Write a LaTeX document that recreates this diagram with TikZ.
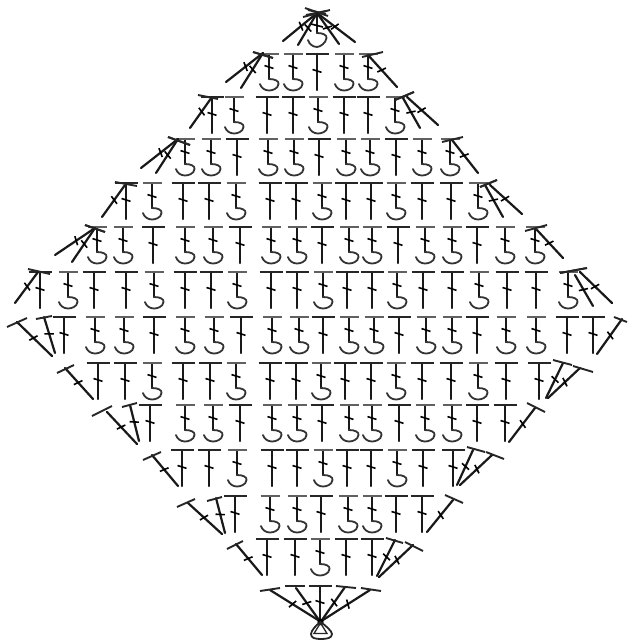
\documentclass[tikz,border=0pt]{standalone}
\tikzset{
  stem/.style={line width=2.4pt,black!90,line cap=round},
  topbar/.style={line width=1.9pt,black!85},
  hookbar/.style={line width=1.7pt,black!62},
  tickline/.style={line width=1.6pt,black},
  hookline/.style={line width=1.8pt,black!80,line cap=round},
}
% plain stitch: x, top y, height
\newcommand\tst[3]{%
  \draw[stem] (#1,#2) -- (#1,#2+#3);
  \draw[topbar] (#1-11.5,#2) -- (#1+11.5,#2);
  \draw[tickline] (#1-4.5,#2+0.47*#3-1.4) -- (#1+4.5,#2+0.47*#3+1.4);
}
% hooked stitch: x, top y
\newcommand\hst[2]{%
  \draw[stem,line width=2.1pt] (#1,#2) -- (#1,#2+25);
  \draw[hookbar] (#1-9.5,#2) -- (#1+9.5,#2);
  \draw[tickline] (#1-4.5,#2+13-1.4) -- (#1+4.5,#2+13+1.4);
  \draw[hookline] (#1,#2+25) .. controls (#1+6,#2+25) and (#1+10,#2+27) .. (#1+9.5,#2+30)
     .. controls (#1+9,#2+35) and (#1+3,#2+36.5) .. (#1,#2+36.5)
     .. controls (#1-4,#2+36.5) and (#1-8,#2+34) .. (#1-9,#2+30);
}
% slanted stitch: top x,y; bottom x,y; bar ends x1,y1,x2,y2
\newcommand\sst[8]{%
  \pgfmathsetmacro\len{veclen(#3-#1,#4-#2)}%
  \pgfmathsetmacro\ux{(#3-#1)/\len}%
  \pgfmathsetmacro\uy{(#4-#2)/\len}%
  \pgfmathsetmacro\mx{#1+0.47*(#3-#1)}%
  \pgfmathsetmacro\my{#2+0.47*(#4-#2)}%
  \draw[stem,line width=2.2pt] (#1,#2) -- (#3,#4);
  \draw[topbar] (#5,#6) -- (#7,#8);
  \draw[tickline] (\mx-4.5*\uy-1.4*\ux,\my+4.5*\ux-1.4*\uy) -- (\mx+4.5*\uy+1.4*\ux,\my-4.5*\ux+1.4*\uy);
}
\newcommand\rowst[3]{%
  \foreach \q in {#2} {\tst{\q}{#1}{36}}
  \foreach \q in {#3} {\hst{\q}{#1}}
}
\begin{document}
\begin{tikzpicture}[x=1pt,y=-1pt]
\useasboundingbox (0,0) rectangle (627,640);
% top fan
\sst{317}{13}{283}{41}{305}{8}{328}{16}
\sst{317}{13}{298}{45}{303}{17}{330}{10}
\sst{317}{13}{339}{44}{308}{10}{326}{14}
\sst{317}{13}{355}{42}{306}{15}{326}{11}
\draw[stem,line width=2.1pt] (317,13) -- (317,33);
\draw[tickline] (311,24) -- (323,27);
\draw[hookline] (317,33) .. controls (323,33) and (327,35) .. (326.5,38)
   .. controls (326,43) and (320,47) .. (317,47) .. controls (313,47) and (309,44) .. (308,40);
% rows
\rowst{54}{317}{269,293,344,368}
\rowst{97}{212,267,293,344,368}{234,318,395}
\rowst{139}{237,319,396}{185,211,268,294,346,370,422,450}
\rowst{183}{126,183,209,270,296,346,371,422,451}{152,236,322,396,478}
\rowst{227}{153,240,322,398,477}{97,123,185,213,271,297,349,372,425,452,505,535}
\rowst{272}{40,94,126,185,211,271,297,347,372,423,452,507,536}{68,154,237,323,397,479,568}
\rowst{317}{64,154,241,323,399,477,567,593}{95,124,185,214,272,299,349,374,426,452,506,536}
\rowst{363}{98,125,183,210,270,296,345,371,422,451,506,539}{152,236,321,396,478}
\rowst{405}{150,240,322,399,477,505}{185,213,272,297,349,372,425,452}
\rowst{450}{182,209,272,297,347,371,423,453}{237,323,397}
\rowst{496}{235,321,396,422}{270,297,348,372}
\rowst{539}{267,295,346,372}{320}
% side stitches
\sst{263}{53}{226}{82}{253}{52}{273}{58}
\sst{263}{53}{241}{88}{253}{52}{273}{58}
\sst{368}{55}{397}{87}{362}{57}{383}{52}
\sst{212}{97}{190}{128}{198}{95}{218}{99}
\sst{403}{98}{420}{128}{395}{100}{414}{92}
\sst{407}{97}{438}{125}{395}{100}{414}{92}
\sst{178}{139}{141}{168}{168}{137}{190}{145}
\sst{178}{139}{156}{173}{168}{137}{190}{145}
\sst{452}{140}{478}{173}{442}{142}{463}{137}
\sst{125}{185}{102}{217}{115}{182}{137}{186}
\sst{485}{185}{503}{217}{480}{187}{497}{180}
\sst{490}{185}{522}{214}{480}{187}{497}{180}
\sst{95}{228}{55}{255}{85}{225}{105}{232}
\sst{95}{228}{72}{262}{85}{225}{105}{232}
\sst{537}{230}{563}{258}{525}{231}{547}{225}
\sst{38}{272}{15}{303}{28}{269}{50}{274}
\sst{575}{275}{593}{306}{560}{273}{587}{268}
\sst{580}{272}{612}{303}{560}{273}{587}{268}
\sst{17}{322}{52}{356}{7}{327}{27}{318}
\sst{44}{317}{55}{353}{36}{319}{52}{316}
\sst{622}{319}{597}{354}{614}{317}{627}{322}
\sst{65}{368}{93}{399}{57}{373}{74}{365}
\sst{563}{363}{546}{398}{553}{360}{572}{365}
\sst{580}{368}{548}{398}{573}{366}{593}{372}
\sst{107}{412}{137}{444}{92}{416}{112}{406}
\sst{130}{405}{139}{441}{122}{407}{137}{403}
\sst{535}{408}{509}{442}{527}{403}{545}{412}
\sst{152}{455}{178}{486}{143}{460}{161}{452}
\sst{473}{450}{457}{485}{467}{447}{485}{452}
\sst{492}{455}{460}{485}{486}{452}{504}{459}
\sst{188}{503}{222}{534}{177}{507}{195}{499}
\sst{216}{498}{225}{533}{207}{501}{222}{497}
\sst{453}{500}{427}{532}{445}{495}{463}{503}
\sst{236}{544}{262}{575}{227}{549}{243}{541}
\sst{395}{540}{377}{576}{386}{538}{403}{543}
\sst{413}{545}{379}{577}{405}{542}{423}{551}
% bottom fan
\sst{270}{590}{318}{620}{260}{591}{280}{588}
\sst{296}{588}{319}{620}{285}{586}{305}{586}
\sst{320}{586}{320}{620}{309}{586}{332}{586}
\sst{345}{587}{322}{620}{336}{586}{356}{588}
\sst{370}{590}{323}{620}{361}{588}{381}{591}
% ring
\fill[black] (320.5,622) circle (3.2);
\draw[line width=1.8pt,black!85] (320.5,622) .. controls (316,625) and (311,631) .. (311,634)
  .. controls (311,638) and (315,639) .. (321,639)
  .. controls (327,639) and (332,638) .. (332,634)
  .. controls (332,631) and (325,625) .. (320.5,622) -- cycle;
\draw[line width=1.3pt,black!85] (320.5,623) -- (314,633.5) -- (327,633.5) -- cycle;
\end{tikzpicture}
\end{document}
